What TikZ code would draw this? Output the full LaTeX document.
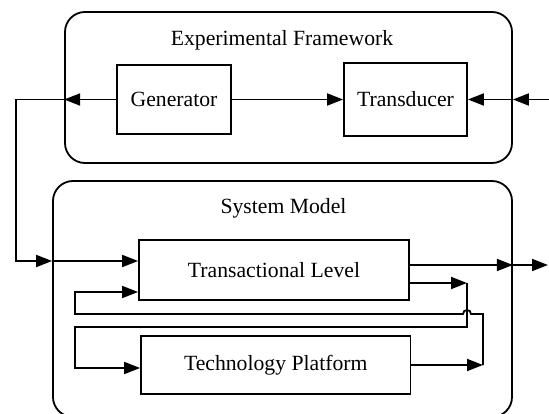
\documentclass[tikz,border=0pt]{standalone}
\usepackage{fontspec}
\setmainfont{Liberation Serif}
\usetikzlibrary{arrows.meta}
\begin{document}
\begin{tikzpicture}[x=1pt,y=-1pt,
  font=\fontsize{21.7}{26}\selectfont,
  every path/.style={line width=1.8pt},
  frame/.style={draw, rounded corners=20pt, inner sep=0pt},
  block/.style={draw, inner sep=0pt},
  arr/.style={-{Triangle[length=16pt,width=12pt]}}]
\useasboundingbox (0,0) rectangle (549,414);

% outer frames and their titles
\node[frame, minimum width=447pt, minimum height=151pt] (ef) at (288.5,87.5) {};
\node[frame, minimum width=459pt, minimum height=236pt] (sm) at (282.5,299) {};
\node (eft) at (282,40) {Experimental Framework};
\node (smt) at (283.5,208) {System Model};

% blocks
\node[block, minimum width=114pt, minimum height=69pt] (gen) at (174,99.5) {Generator};
\node[block, minimum width=123pt, minimum height=73pt] (td) at (405.5,99.5) {Transducer};
\node[block, minimum width=270pt, minimum height=60pt] (tl) at (274,270) {Transactional Level};
\node[block, minimum width=269.5pt, minimum height=58pt] (tp) at (275.75,365) {Technology Platform};

% routing points
\coordinate (lbus) at (16,0);
\coordinate (rin) at (549,99.5);
\coordinate (rout) at (548,0);
\coordinate (busA) at (467,0);
\coordinate (busB) at (483,0);
\coordinate (loopx) at (75,0);
\coordinate (uprow) at (0,314);
\coordinate (lowrow) at (0,327);
\coordinate (tlin1) at ([yshift=9pt]tl.west);
\coordinate (tlin2) at ([yshift=-22pt]tl.west);
\coordinate (tlout1) at ([yshift=5pt]tl.east);
\coordinate (tlout2) at ([yshift=-13pt]tl.east);
\coordinate (tpin) at ([yshift=-3pt]tp.west);
\coordinate (j) at (busA |- uprow);

% experimental framework connections
\draw[arr] (gen.west) -- (gen.west -| ef.west);
\draw[arr] (gen.west -| ef.west) -- (gen.west -| lbus) |- (sm.west |- tlin1);
\draw[arr] (sm.west |- tlin1) -- (tlin1);
\draw[arr] (gen.east) -- (td.west);
\draw[arr] (rin) -- (rin -| ef.east);
\draw[arr] (rin -| ef.east) -- (td.east);

% system model outputs
\draw[arr] (tlout1) -- (tlout1 -| sm.east);
\draw[arr] (tlout1 -| sm.east) -- (tlout1 -| rout);

% feedback loops
\draw[arr] (tlout2) -- (tlout2 -| busA);
\draw[arr] (tlout2 -| busA) |- (loopx |- lowrow) |- (tpin);
\draw[arr] (tp.east) -- (tp.east -| busB);
\draw[arr] (tp.east -| busB) -- (busB |- uprow) -- ([xshift=4pt]j)
  .. controls ([xshift=4pt,yshift=5.3pt]j) and ([xshift=-4pt,yshift=5.3pt]j) .. ([xshift=-4pt]j)
  -- (loopx |- uprow) |- (tlin2);
\end{tikzpicture}
\end{document}
